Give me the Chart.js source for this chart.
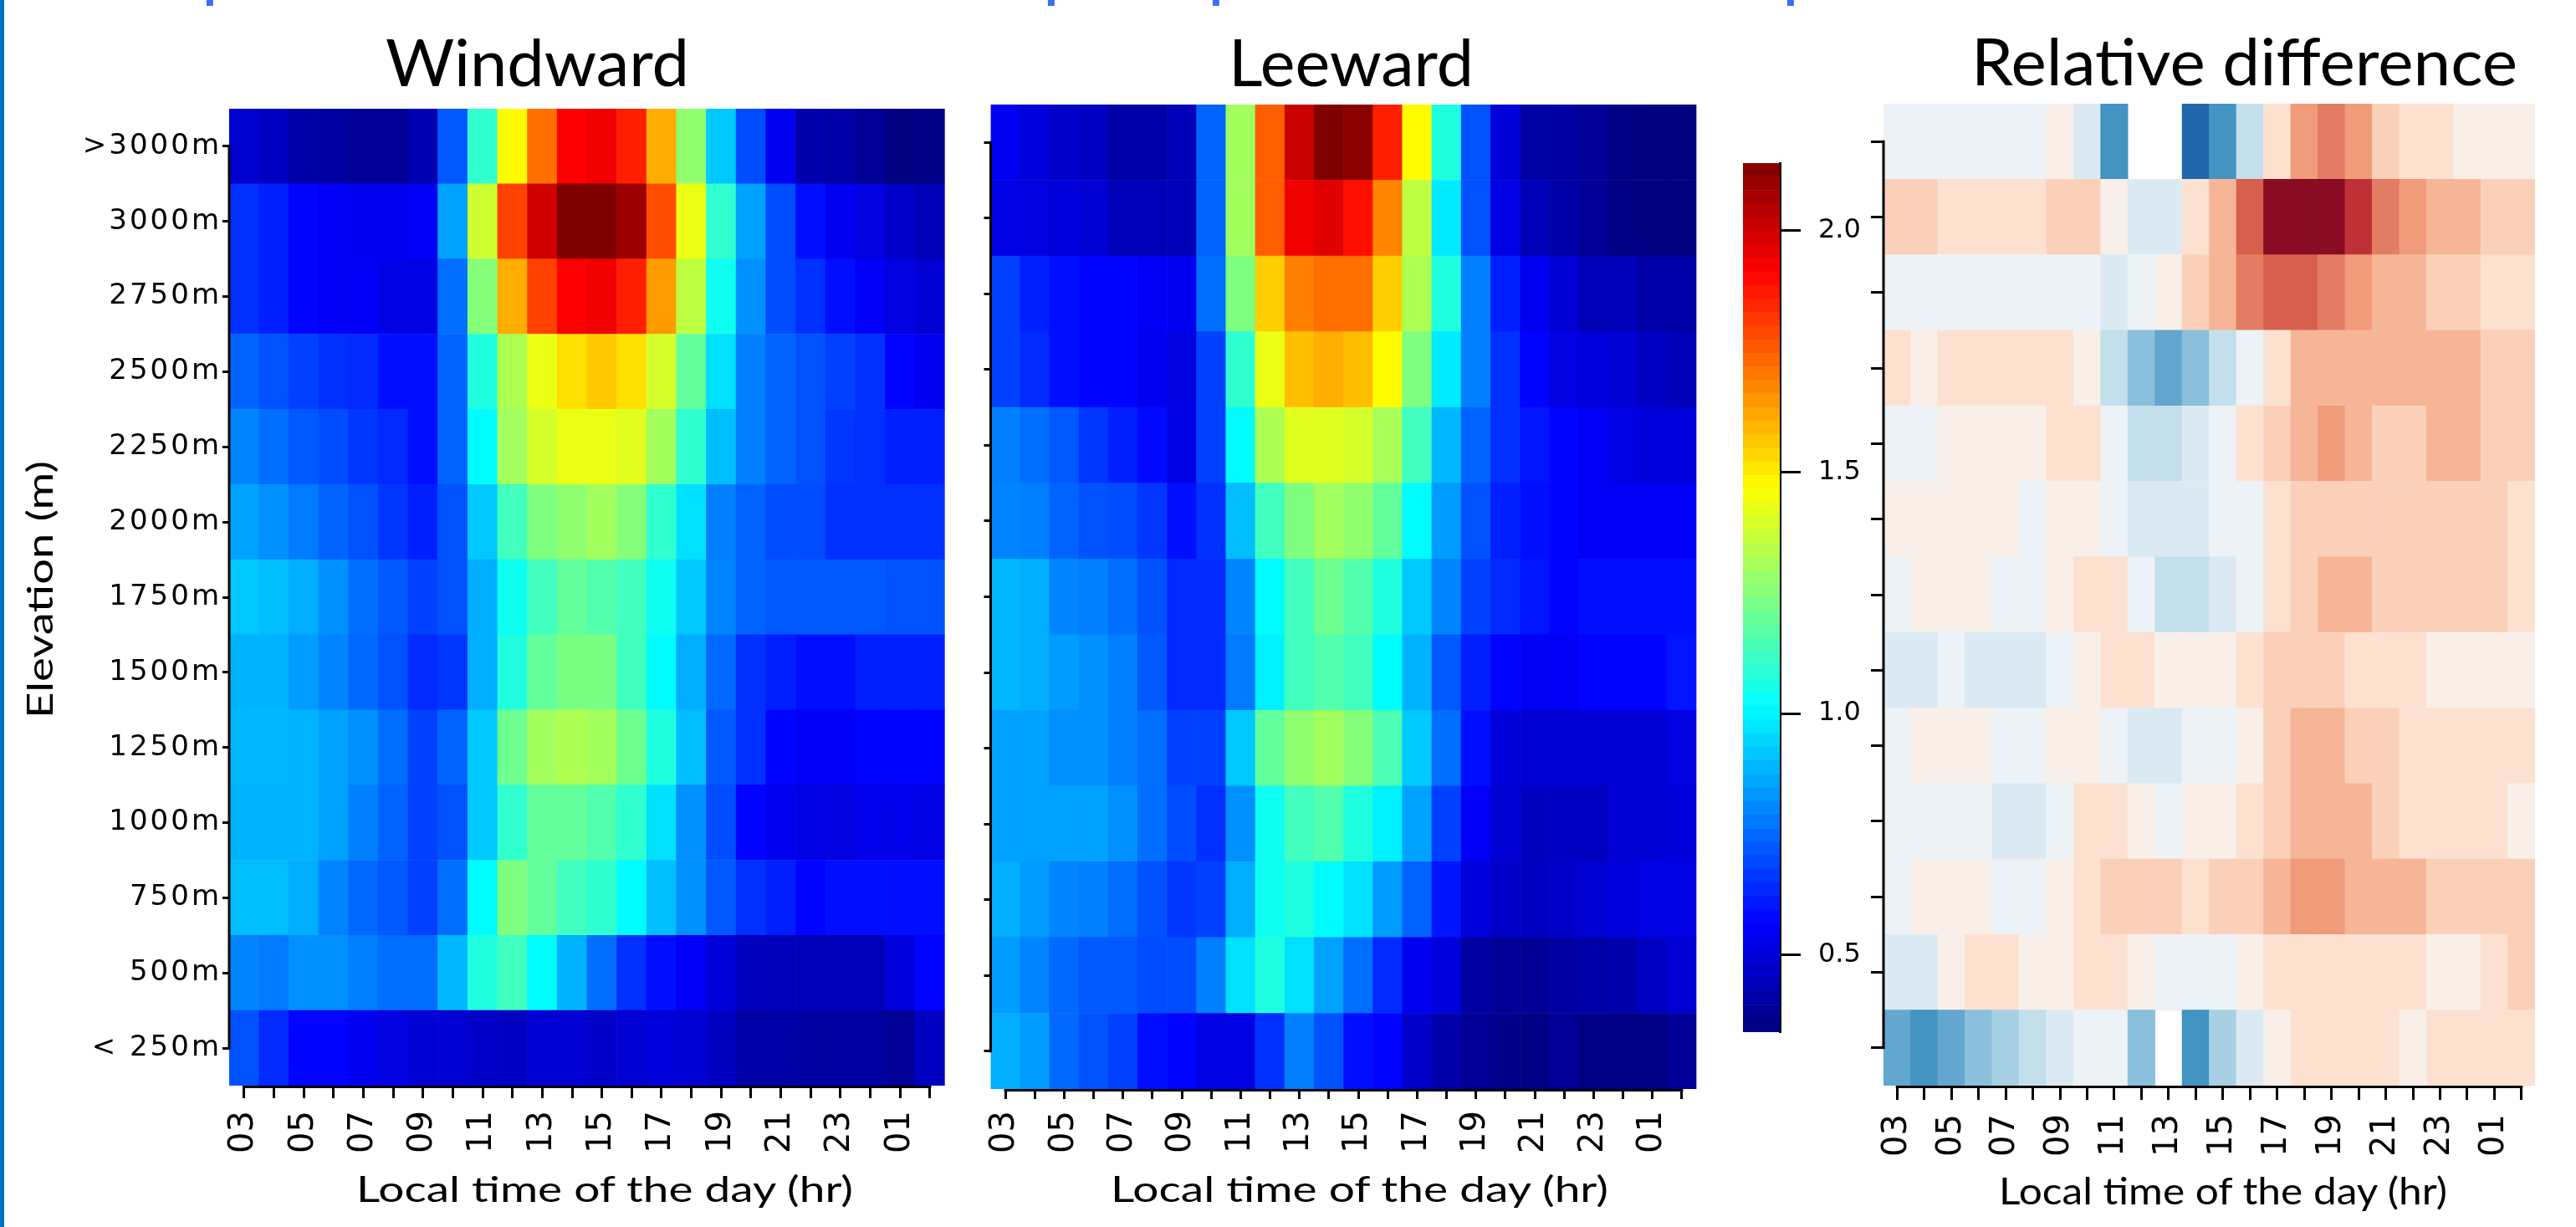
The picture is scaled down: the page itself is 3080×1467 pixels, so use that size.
<!DOCTYPE html>
<html><head><meta charset="utf-8">
<script src="https://cdn.jsdelivr.net/npm/chart.js@4.4.1/dist/chart.umd.min.js"></script>
<style>
html,body{margin:0;padding:0;background:#fff;overflow:hidden;}
#page{position:relative;width:3080px;height:1467px;background:#fff;overflow:hidden;}
.box{position:absolute;}
#overlay{position:absolute;left:0;top:0;pointer-events:none;}
</style></head><body>
<div id="page">
  <div class="box" style="left:0px;top:0px;width:1175px;height:1467px"><canvas id="cWind"></canvas></div>
  <div class="box" style="left:1170px;top:0px;width:903px;height:1467px"><canvas id="cLee"></canvas></div>
  <div class="box" style="left:2040px;top:0px;width:220px;height:1467px"><canvas id="cBar"></canvas></div>
  <div class="box" style="left:2200px;top:0px;width:880px;height:1467px"><canvas id="cRel"></canvas></div>
  <svg id="overlay" width="3080" height="1467" viewBox="0 0 3080 1467">
    <rect x="0" y="0" width="5" height="1467" fill="#0070C0"/>
    <g font-family="Lato" font-weight="bold" font-size="64" fill="#3d6cf5">
      <text x="243" y="-3">p</text>
      <text x="1249" y="-3">p</text>
      <text x="1446" y="-3">p</text>
      <text x="2133" y="-3">p</text>
    </g>
    <g font-family="Lato" fill="#000">
      <text x="461" y="103" font-size="78" textLength="363" lengthAdjust="spacingAndGlyphs">Windward</text>
      <text x="1469" y="103" font-size="78" textLength="293" lengthAdjust="spacingAndGlyphs">Leeward</text>
      <text x="2357" y="102" font-size="78" textLength="653" lengthAdjust="spacingAndGlyphs">Relative difference</text>
      <text transform="translate(63,705) rotate(-90)" text-anchor="middle" font-size="43" textLength="308" lengthAdjust="spacingAndGlyphs">Elevation (m)</text>
      <text x="426" y="1437" font-size="43" textLength="594" lengthAdjust="spacingAndGlyphs">Local time of the day (hr)</text>
      <text x="1328" y="1437" font-size="43" textLength="595" lengthAdjust="spacingAndGlyphs">Local time of the day (hr)</text>
      <text x="2390" y="1440" font-size="44" textLength="536" lengthAdjust="spacingAndGlyphs">Local time of the day (hr)</text>
    </g>
  </svg>
</div>
<script>
// ---------------- DATA ----------------
const hours = ["03","04","05","06","07","08","09","10","11","12","13","14","15","16","17","18","19","20","21","22","23","00","01","02"];
const elevationLabels = [">3000m","3000m","2750m","2500m","2250m","2000m","1750m","1500m","1250m","1000m","750m","500m","< 250m"];

// Windward values (rows top -> bottom, columns 03h ... 02h)
const windward = [
 [0.48,0.46,0.41,0.40,0.38,0.38,0.43,0.72,1.10,1.47,1.72,1.92,1.94,1.86,1.61,1.27,0.92,0.70,0.54,0.42,0.41,0.38,0.34,0.35],
 [0.65,0.62,0.57,0.55,0.54,0.54,0.55,0.85,1.38,1.80,2.00,2.14,2.14,2.09,1.78,1.43,1.10,0.85,0.70,0.59,0.54,0.51,0.47,0.44],
 [0.65,0.62,0.57,0.55,0.55,0.52,0.52,0.76,1.25,1.61,1.80,1.92,1.94,1.86,1.64,1.35,1.04,0.82,0.70,0.65,0.59,0.55,0.51,0.49],
 [0.74,0.71,0.68,0.65,0.64,0.59,0.59,0.74,1.07,1.32,1.43,1.52,1.56,1.52,1.39,1.19,0.96,0.79,0.74,0.71,0.68,0.65,0.57,0.54],
 [0.80,0.76,0.72,0.70,0.66,0.64,0.59,0.74,1.01,1.30,1.39,1.43,1.43,1.41,1.30,1.10,0.90,0.79,0.74,0.71,0.66,0.65,0.62,0.62],
 [0.85,0.82,0.78,0.74,0.71,0.66,0.62,0.71,0.92,1.13,1.24,1.27,1.30,1.25,1.10,0.96,0.79,0.74,0.70,0.70,0.65,0.65,0.65,0.65],
 [0.92,0.90,0.87,0.82,0.76,0.72,0.68,0.71,0.87,1.04,1.13,1.19,1.16,1.13,1.04,0.92,0.80,0.74,0.72,0.72,0.72,0.72,0.71,0.71],
 [0.88,0.88,0.84,0.80,0.75,0.71,0.64,0.66,0.87,1.07,1.19,1.23,1.23,1.13,1.01,0.87,0.75,0.65,0.62,0.59,0.59,0.62,0.62,0.62],
 [0.89,0.89,0.88,0.85,0.82,0.76,0.68,0.74,0.92,1.21,1.30,1.32,1.30,1.21,1.07,0.90,0.72,0.65,0.57,0.55,0.55,0.57,0.57,0.57],
 [0.88,0.88,0.88,0.85,0.79,0.74,0.68,0.71,0.92,1.10,1.19,1.19,1.16,1.10,0.96,0.82,0.70,0.57,0.54,0.52,0.51,0.53,0.53,0.52],
 [0.90,0.90,0.87,0.80,0.75,0.72,0.68,0.76,1.01,1.24,1.19,1.13,1.10,1.01,0.90,0.82,0.72,0.65,0.62,0.57,0.59,0.59,0.59,0.59],
 [0.80,0.78,0.82,0.82,0.79,0.76,0.76,0.89,1.07,1.13,1.01,0.88,0.76,0.65,0.59,0.55,0.50,0.45,0.44,0.44,0.44,0.44,0.50,0.57],
 [0.71,0.64,0.57,0.57,0.54,0.51,0.49,0.49,0.47,0.46,0.49,0.49,0.47,0.49,0.50,0.49,0.46,0.41,0.41,0.40,0.40,0.40,0.38,0.46]
];

// Leeward values
const leeward = [
 [0.54,0.50,0.47,0.46,0.41,0.41,0.44,0.74,1.30,1.75,2.01,2.14,2.12,1.86,1.47,1.07,0.71,0.50,0.41,0.40,0.38,0.35,0.34,0.34],
 [0.52,0.51,0.50,0.49,0.44,0.44,0.44,0.74,1.30,1.75,1.94,1.97,1.89,1.68,1.35,0.98,0.71,0.52,0.44,0.41,0.38,0.35,0.34,0.34],
 [0.68,0.62,0.59,0.57,0.57,0.55,0.54,0.76,1.24,1.55,1.69,1.72,1.72,1.55,1.32,1.07,0.79,0.62,0.54,0.49,0.44,0.44,0.41,0.41],
 [0.68,0.64,0.59,0.57,0.57,0.54,0.51,0.68,1.10,1.43,1.58,1.61,1.58,1.47,1.24,0.98,0.79,0.65,0.57,0.51,0.50,0.49,0.46,0.44],
 [0.79,0.76,0.72,0.66,0.62,0.58,0.52,0.68,1.01,1.32,1.41,1.41,1.39,1.31,1.13,0.89,0.74,0.65,0.60,0.57,0.55,0.52,0.50,0.50],
 [0.80,0.79,0.74,0.71,0.70,0.66,0.59,0.65,0.90,1.13,1.24,1.30,1.27,1.19,1.01,0.84,0.71,0.62,0.59,0.57,0.55,0.55,0.55,0.55],
 [0.89,0.87,0.80,0.79,0.76,0.71,0.64,0.64,0.80,1.01,1.13,1.21,1.16,1.07,0.92,0.80,0.68,0.64,0.60,0.57,0.59,0.59,0.59,0.59],
 [0.89,0.87,0.84,0.82,0.79,0.72,0.64,0.64,0.78,0.99,1.13,1.16,1.13,1.01,0.88,0.72,0.62,0.57,0.55,0.55,0.57,0.57,0.57,0.60],
 [0.85,0.85,0.82,0.82,0.79,0.76,0.68,0.68,0.92,1.19,1.27,1.30,1.25,1.15,0.92,0.76,0.59,0.50,0.49,0.49,0.49,0.49,0.49,0.51],
 [0.85,0.85,0.85,0.85,0.82,0.76,0.70,0.65,0.82,1.04,1.13,1.16,1.07,0.99,0.85,0.68,0.55,0.49,0.46,0.46,0.46,0.49,0.49,0.50],
 [0.87,0.84,0.80,0.79,0.76,0.71,0.66,0.68,0.87,1.04,1.07,1.01,0.96,0.84,0.74,0.60,0.50,0.47,0.46,0.47,0.49,0.50,0.52,0.52],
 [0.84,0.80,0.75,0.72,0.72,0.70,0.70,0.79,0.96,1.07,0.96,0.85,0.76,0.64,0.54,0.50,0.40,0.38,0.38,0.40,0.41,0.42,0.46,0.49],
 [0.87,0.84,0.75,0.71,0.68,0.59,0.57,0.52,0.52,0.65,0.79,0.71,0.59,0.57,0.47,0.42,0.38,0.36,0.35,0.38,0.35,0.35,0.35,0.38]
];

// Relative difference (null = no data)
const relDiff = [
 [-0.06,-0.06,-0.06,-0.06,-0.06,-0.06,0.06,-0.15,-0.6,null,null,-0.8,-0.6,-0.24,0.16,0.43,0.52,0.43,0.24,0.16,0.16,0.06,0.06,0.06],
 [0.24,0.24,0.16,0.16,0.16,0.16,0.24,0.24,0.06,-0.15,-0.15,0.16,0.34,0.6,0.91,0.91,0.91,0.73,0.52,0.43,0.34,0.34,0.24,0.24],
 [-0.06,-0.06,-0.06,-0.06,-0.06,-0.06,-0.06,-0.06,-0.15,-0.06,0.06,0.24,0.34,0.52,0.6,0.6,0.52,0.43,0.34,0.34,0.24,0.24,0.16,0.16],
 [0.16,0.06,0.16,0.16,0.16,0.16,0.16,0.06,-0.24,-0.42,-0.52,-0.42,-0.24,-0.06,0.16,0.34,0.34,0.34,0.34,0.34,0.34,0.34,0.24,0.24],
 [-0.06,-0.06,0.06,0.06,0.06,0.06,0.16,0.16,-0.06,-0.24,-0.24,-0.15,-0.06,0.16,0.24,0.34,0.43,0.34,0.24,0.24,0.34,0.34,0.24,0.24],
 [0.06,0.06,0.06,0.06,0.06,-0.06,0.06,0.06,-0.06,-0.15,-0.15,-0.15,-0.06,-0.06,0.16,0.24,0.24,0.24,0.24,0.24,0.24,0.24,0.24,0.16],
 [-0.06,0.06,0.06,0.06,-0.06,-0.06,0.06,0.16,0.16,-0.06,-0.24,-0.24,-0.15,-0.06,0.16,0.24,0.34,0.34,0.24,0.24,0.24,0.24,0.24,0.16],
 [-0.15,-0.15,-0.06,-0.15,-0.15,-0.15,-0.06,0.06,0.16,0.16,0.06,0.06,0.06,0.16,0.24,0.24,0.24,0.16,0.16,0.16,0.06,0.06,0.06,0.06],
 [-0.06,0.06,0.06,0.06,-0.06,-0.06,0.06,0.06,-0.06,-0.15,-0.15,-0.06,-0.06,0.06,0.24,0.34,0.34,0.24,0.24,0.16,0.16,0.16,0.16,0.16],
 [-0.06,-0.06,-0.06,-0.06,-0.15,-0.15,-0.06,0.16,0.16,0.06,-0.06,0.06,0.06,0.16,0.24,0.34,0.34,0.34,0.24,0.16,0.16,0.16,0.16,0.06],
 [-0.06,0.06,0.06,0.06,-0.06,-0.06,0.06,0.16,0.24,0.24,0.24,0.16,0.24,0.24,0.34,0.43,0.43,0.34,0.34,0.34,0.24,0.24,0.24,0.24],
 [-0.15,-0.15,0.06,0.16,0.16,0.06,0.06,0.16,0.16,0.06,-0.06,-0.06,-0.06,0.06,0.16,0.16,0.16,0.16,0.16,0.16,0.06,0.06,0.16,0.24],
 [-0.52,-0.6,-0.52,-0.42,-0.33,-0.24,-0.15,-0.06,-0.06,-0.42,null,-0.6,-0.33,-0.15,0.06,0.16,0.16,0.16,0.16,0.06,0.16,0.16,0.16,0.16]
];

const colorbarTicks = [0.5, 1.0, 1.5, 2.0];
const colorMin = 0.34, colorMax = 2.14;

// ---------------- COLOR MAPS ----------------
function jet(f){
  f = Math.max(0, Math.min(1, f));
  let r, g, b;
  if (f < 0.125){ r = 0; g = 0; b = 0.5 + 4*f; }
  else if (f < 0.375){ r = 0; g = 4*(f-0.125); b = 1; }
  else if (f < 0.625){ r = 4*(f-0.375); g = 1; b = 1 - r; }
  else if (f < 0.875){ r = 1; g = 1 - 4*(f-0.625); b = 0; }
  else { r = 1 - 4*(f-0.875); g = 0; b = 0; }
  return 'rgb(' + Math.round(r*255) + ',' + Math.round(g*255) + ',' + Math.round(b*255) + ')';
}
function jetValue(v){ return jet((v - colorMin)/(colorMax - colorMin)); }
const rdbuAnchors = ['#053061','#2166ac','#4393c3','#92c5de','#d1e5f0','#f7f7f7','#fddbc7','#f4a582','#d6604d','#b2182b','#67001f'];
function hex2rgb(h){ return [parseInt(h.substr(1,2),16), parseInt(h.substr(3,2),16), parseInt(h.substr(5,2),16)]; }
function rdbuR(v){
  if (v === null || v === undefined) return 'rgba(255,255,255,0)';
  let f = Math.max(0, Math.min(1, (v + 1)/2)) * 10;
  let i = Math.min(9, Math.floor(f)); const t = f - i;
  const a = hex2rgb(rdbuAnchors[i]), b = hex2rgb(rdbuAnchors[i+1]);
  return 'rgb(' + a.map((c,k)=>Math.round(c + (b[k]-c)*t)).join(',') + ')';
}

// ---------------- PLUGINS ----------------
const spinePlugin = {
  id: 'spines',
  afterDraw(chart, args, opts){
    const list = (opts && opts.list) || [];
    const ctx = chart.ctx;
    ctx.save();
    ctx.letterSpacing = '0px';
    ctx.strokeStyle = '#000'; ctx.lineWidth = 3; ctx.lineCap = 'butt';
    list.forEach(s => {
      const sc = chart.scales[s.id]; const n = sc.ticks.length;
      const p0 = sc.getPixelForTick(0), p1 = sc.getPixelForTick(n-1);
      ctx.beginPath();
      if (sc.isHorizontal()){
        const y = sc.top + s.off;
        ctx.moveTo(Math.min(p0,p1) - 1.5, y); ctx.lineTo(Math.max(p0,p1) + 1.5, y);
      } else {
        const x = sc.right + s.off;
        ctx.moveTo(x, Math.min(p0,p1) - 1.5); ctx.lineTo(x, Math.max(p0,p1) + 1.5);
      }
      ctx.stroke();
    });
    ctx.restore();
  }
};
const spacingPlugin = {
  id: 'yspacing',
  afterDatasetsDraw(chart, args, opts){ if (opts && opts.px) chart.ctx.letterSpacing = opts.px + 'px'; },
  afterDraw(chart){ chart.ctx.letterSpacing = '0px'; }
};

Chart.defaults.font.family = 'DejaVu Sans';
Chart.defaults.color = '#000';

function heatmap(id, rows, colorFn, g){
  const nRows = rows.length;
  const datasets = rows.slice().reverse().map((row, k) => ({
    label: elevationLabels[nRows - 1 - k],
    data: hours.map(() => 1),
    backgroundColor: row.map(colorFn),
    borderWidth: 0, barPercentage: 1, categoryPercentage: 1, stack: 'cells'
  }));
  return new Chart(document.getElementById(id), {
    type: 'bar',
    data: { labels: hours, datasets: datasets },
    options: {
      responsive: true, maintainAspectRatio: false, animation: false, devicePixelRatio: 1,
      layout: { padding: { top: g.top, right: g.right, bottom: 0, left: 0 } },
      plugins: {
        legend: { display: false }, tooltip: { enabled: false }, title: { display: false },
        spines: { list: [{ id: 'x', off: 1.5 }, { id: 'y', off: 0 }] },
        yspacing: { px: g.ySpacing || 0 }
      },
      scales: {
        x: {
          type: 'category', stacked: true, offset: true,
          grid: { display: true, offset: false, drawOnChartArea: false, drawTicks: true, tickLength: g.xTick, tickWidth: 3, tickColor: '#000' },
          border: { display: false },
          ticks: { autoSkip: false, minRotation: 90, maxRotation: 90, padding: g.xPad, color: '#000',
                   font: { family: 'DejaVu Sans', size: 40 },
                   callback: (v, i) => (i % 2 === 0 ? hours[i] : '') },
          afterFit: (s) => { s.height = g.xHeight; }
        },
        y: {
          type: 'linear', stacked: true, min: 0, max: nRows,
          grid: { display: true, drawOnChartArea: false, drawTicks: true, tickLength: g.yTick, tickWidth: 3, tickColor: '#000' },
          border: { display: false },
          afterBuildTicks: (s) => { s.ticks = rows.map((_, k) => ({ value: k + 0.5 })); },
          ticks: { z: 1, autoSkip: false, padding: g.yPad, color: '#000',
                   font: { family: 'DejaVu Sans', size: 34 },
                   callback: (v) => (g.yLabels ? elevationLabels[nRows - 1 - Math.floor(v)] : '') },
          afterFit: (s) => { s.width = g.yWidth; }
        }
      }
    },
    plugins: [spinePlugin, spacingPlugin]
  });
}

heatmap('cWind', windward, jetValue, { top: 130, right: 7, yWidth: 274, xHeight: 169, yTick: 8, yPad: 1, xTick: 15, xPad: 15, yLabels: true, ySpacing: 3 });
heatmap('cLee', leeward, jetValue, { top: 125, right: 7, yWidth: 14.5, xHeight: 165, yTick: 8, yPad: 2, xTick: 12, xPad: 14, yLabels: false });
heatmap('cRel', relDiff, rdbuR, { top: 124, right: 7, yWidth: 52, xHeight: 169, yTick: 15, yPad: 2, xTick: 17, xPad: 17, yLabels: false });

// Colorbar
const cbN = 64;
const cbStep = (colorMax - colorMin) / cbN;
const cbSegments = Array.from({ length: cbN }, (_, i) => [colorMin + i*cbStep, colorMin + (i+1)*cbStep]);
new Chart(document.getElementById('cBar'), {
  type: 'bar',
  data: { labels: [''], datasets: cbSegments.map((s, i) => ({ data: [s], backgroundColor: jet((i + 0.5)/cbN), borderWidth: 0, barPercentage: 1, categoryPercentage: 1 })) },
  options: {
    responsive: true, maintainAspectRatio: false, animation: false, devicePixelRatio: 1,
    layout: { padding: { top: 195, left: 44, right: 0, bottom: 233 } },
    plugins: { legend: { display: false }, tooltip: { enabled: false } },
    scales: {
      x: { display: false, stacked: true },
      y: {
        position: 'right', min: colorMin, max: colorMax,
        grid: { display: true, drawOnChartArea: false, drawTicks: true, tickLength: 25, tickWidth: 3, tickColor: '#000' },
        border: { display: true, color: '#000', width: 3 },
        afterBuildTicks: (s) => { s.ticks = colorbarTicks.map(v => ({ value: v })); },
        ticks: { padding: 21, color: '#000', font: { family: 'DejaVu Sans', size: 32 }, callback: (v) => Number(v).toFixed(1) },
        afterFit: (s) => { s.width = 132; }
      }
    }
  }
});
</script>
</body></html>
